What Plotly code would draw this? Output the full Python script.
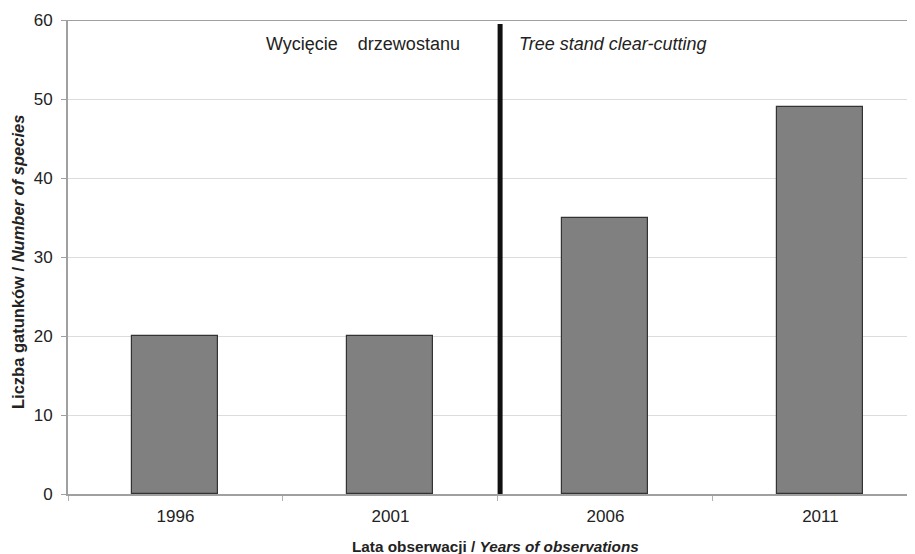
import plotly.graph_objects as go

years = ["1996", "2001", "2006", "2011"]
species = [20, 20, 35, 49]
y_ticks = [0, 10, 20, 30, 40, 50, 60]

FONT = "Liberation Sans, Arial"
TXT = "#222222"

fig = go.Figure()
fig.add_trace(go.Bar(
    x=years, y=species, width=0.4,
    marker=dict(color="#808080", line=dict(color="#333333", width=1.2)),
))

fig.add_shape(type="line", xref="x", yref="y", x0=1.51, x1=1.51, y0=0, y1=59.5,
              line=dict(color="#111111", width=5))
fig.add_shape(type="line", xref="paper", yref="y", x0=0, x1=1, y0=60, y1=60,
              line=dict(color="#a0a0a0", width=2))

fig.add_annotation(x=1.335, y=57.0, xref="x", yref="y", xanchor="right", yanchor="middle",
                   text="Wycięcie\u00a0\u00a0\u00a0\u00a0drzewostanu", showarrow=False,
                   font=dict(family=FONT, size=18, color=TXT))
fig.add_annotation(x=1.59, y=57.0, xref="x", yref="y", xanchor="left", yanchor="middle",
                   text="<i>Tree stand clear-cutting</i>", showarrow=False,
                   font=dict(family=FONT, size=18, color=TXT))

fig.add_annotation(x=(495 - 68) / 847, y=-52 / 474, xref="paper", yref="paper",
                   xanchor="center", yanchor="middle", showarrow=False,
                   text="<b>Lata obserwacji / <i>Years of observations</i></b>",
                   font=dict(family=FONT, size=15.3, color=TXT))
fig.add_annotation(x=-50 / 847, y=(494 - 262) / 474, xref="paper", yref="paper",
                   xanchor="center", yanchor="middle", showarrow=False, textangle=-90,
                   text="<b>Liczba gatunków / <i>Number of species</i></b>",
                   font=dict(family=FONT, size=16.5, color=TXT))

fig.update_layout(
    width=907, height=546,
    margin=dict(l=60, r=0, t=12, b=60),
    plot_bgcolor="white", paper_bgcolor="white",
    showlegend=False,
    font=dict(family=FONT, size=17, color=TXT),
    bargap=0,
    xaxis=dict(
        type="category", range=[-0.5, 3.44], tickson="boundaries",
        ticks="outside", ticklen=5, tickcolor="#b0b0b0",
        showline=True, linecolor="#a0a0a0", linewidth=2,
        showgrid=False, tickfont=dict(size=17, color=TXT),
        ticklabelstandoff=6,
    ),
    yaxis=dict(
        range=[0, 60], tickvals=y_ticks, ticks="outside", ticklen=5, tickcolor="#a0a0a0",
        showline=True, linecolor="#a0a0a0", linewidth=2,
        gridcolor="#dcdcdc", gridwidth=1, zeroline=False,
        tickfont=dict(size=17, color=TXT), ticklabelstandoff=5,
    ),
)

fig.write_html("out.html")
